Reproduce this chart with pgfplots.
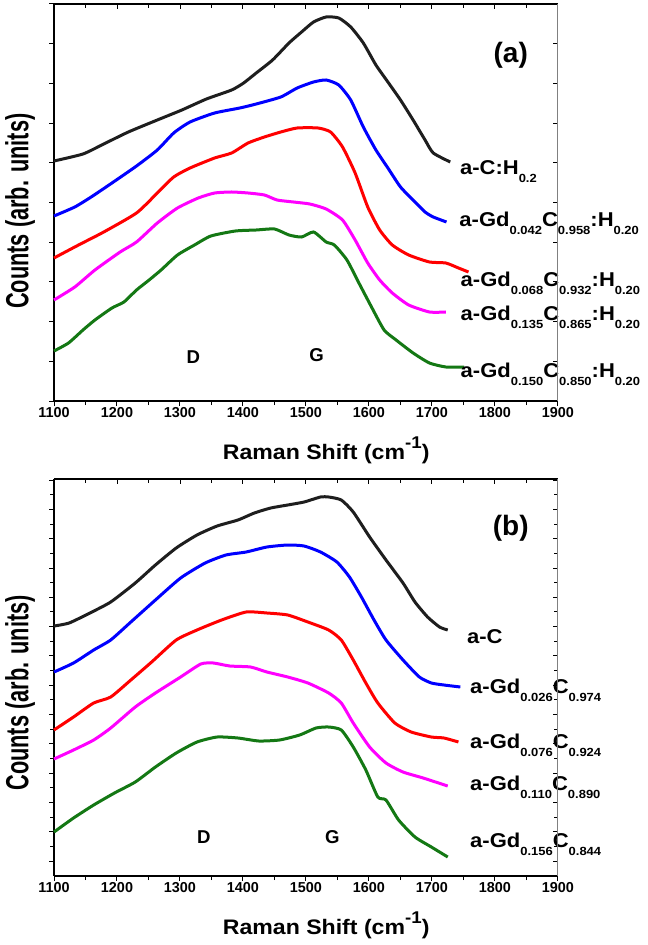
\documentclass[border=0pt]{standalone}
\usepackage{fontspec}
\setmainfont{Liberation Sans}
\newfontfamily\widefont[FakeStretch=1.1]{Liberation Sans}
\newfontfamily\narrowfont[FakeStretch=0.68]{Liberation Sans}
\usepackage{pgfplots}
\pgfplotsset{compat=1.18}
\definecolor{cblack}{RGB}{30,30,30}
\definecolor{cgreen}{RGB}{20,120,20}
\definecolor{cmag}{RGB}{255,0,255}
\newcommand{\sub}[1]{\raisebox{-4pt}{\fontsize{5.9}{7}\selectfont #1}}
\newcommand{\lab}{\widefont\bfseries\fontsize{10}{12}\selectfont}
\pgfplotsset{
  panel/.style={
    scale only axis, width=252pt, height=198.5pt,
    xmin=1100, xmax=1900, ymin=0, ymax=397,
    axis x line*=bottom, axis y line*=left,
    axis line style={-, line width=0.6pt},
    tick align=outside,
    major tick length=2.5pt, minor tick length=2pt,
    every tick/.style={black, line width=0.5pt},
    xtick={1100,1200,...,1900},
    minor xtick={1150,1250,...,1850},
    yticklabels={},
    /pgf/number format/assume math mode=true,
    /pgf/number format/1000 sep={},
    xticklabel style={font=\bfseries\fontsize{7.2}{8}\selectfont, yshift=3pt},
    clip=false,
    every axis plot/.append style={line width=1.5pt, smooth, tension=0.35},
    xlabel={\widefont\bfseries\fontsize{10.5}{13}\selectfont Raman Shift (cm\raisebox{5.5pt}{\fontsize{8.5}{9}\selectfont -1})},
    ylabel={\narrowfont\bfseries\fontsize{16}{18}\selectfont Counts (arb. units)},
    every axis x label/.style={at={(axis description cs:0.54,-0.123)}, anchor=center},
    every axis y label/.style={at={(axis description cs:-0.0675,0.478)}, anchor=center, rotate=90},
  },
  rightframe/.style={
    scale only axis, width=252pt, height=198.5pt,
    xmin=1100, xmax=1900, ymin=0, ymax=397,
    axis x line*=top, axis y line*=right,
    x axis line style={-, black, line width=0.6pt},
    y axis line style={-, gray, line width=0.5pt},
    xtick={1100,1200,...,1900},
    minor xtick={1150,1250,...,1850},
    xticklabels={}, yticklabels={},
    tick align=inside,
    major tick length=2.5pt, minor tick length=2pt,
    every tick/.style={black, line width=0.5pt},
  }
}
\begin{document}
\begin{tikzpicture}
\useasboundingbox (0pt,0pt) rectangle (323.5pt,-472.5pt);
% ---------------- panel (a)
\begin{axis}[panel, at={(27pt,-2pt)}, anchor=north west,
  ytick={0,39.7,...,398}]
\addplot[cblack] coordinates {(1100,240)(1146,247)(1179,257)(1218,269)(1264,281)(1303,291)(1342,302)(1382,311)(1401,318)(1421,328)(1447,341)(1473,358)(1493,369)(1512,379)(1532,384)(1552,383)(1571,374)(1591,358)(1611,336)(1630,319)(1650,301)(1670,281)(1689,261)(1702,248)(1729,239)};
\addplot[blue] coordinates {(1100,185)(1133,194)(1159,204)(1192,218)(1231,235)(1264,251)(1290,268)(1316,279)(1355,288)(1395,293)(1421,297)(1460,304)(1486,313)(1512,319)(1532,321)(1552,316)(1571,301)(1591,274)(1611,251)(1630,233)(1650,214)(1670,201)(1689,189)(1702,184)(1723,179)};
\addplot[red] coordinates {(1100,143)(1139,156)(1179,169)(1231,188)(1264,208)(1290,224)(1316,233)(1355,243)(1382,248)(1408,258)(1434,264)(1460,269)(1486,273)(1519,273)(1539,269)(1558,254)(1578,228)(1598,194)(1617,171)(1637,156)(1663,146)(1696,139)(1722,138)(1742,133)(1758,129)};
\addplot[cmag] coordinates {(1100,101)(1133,114)(1165,131)(1205,149)(1231,159)(1264,178)(1296,193)(1329,203)(1355,208)(1382,209)(1408,208)(1434,206)(1454,201)(1480,199)(1506,197)(1532,192)(1558,181)(1578,161)(1598,138)(1617,121)(1637,108)(1663,96)(1696,89)(1722,89)};
\addplot[cgreen] coordinates {(1100,50)(1123,58)(1146,71)(1165,81)(1192,93)(1211,99)(1231,111)(1251,121)(1270,131)(1296,146)(1323,156)(1349,165)(1388,170)(1421,171)(1450,172)(1473,166)(1493,164)(1512,169)(1532,159)(1545,156)(1565,141)(1584,118)(1604,94)(1624,71)(1643,61)(1670,48)(1696,38)(1722,34)(1751,34)};
\node[anchor=base west, inner sep=0pt] at (axis cs:1744,226) {\lab a-C:H\sub{0.2}};
\node[anchor=base west, inner sep=0pt] at (axis cs:1743,174) {\lab a-Gd\sub{0.042}C\sub{0.958}:H\sub{0.20}};
\node[anchor=base west, inner sep=0pt] at (axis cs:1745,114) {\lab a-Gd\sub{0.068}C\sub{0.932}:H\sub{0.20}};
\node[anchor=base west, inner sep=0pt] at (axis cs:1745,80) {\lab a-Gd\sub{0.135}C\sub{0.865}:H\sub{0.20}};
\node[anchor=base west, inner sep=0pt] at (axis cs:1745,24) {\lab a-Gd\sub{0.150}C\sub{0.850}:H\sub{0.20}};
\node at (axis cs:1825,346) {\bfseries\fontsize{14}{16}\selectfont (a)};
\node at (axis cs:1321,44) {\bfseries\fontsize{9.3}{11}\selectfont D};
\node at (axis cs:1517,46) {\bfseries\fontsize{9.3}{11}\selectfont G};
\end{axis}
\begin{axis}[rightframe, at={(27pt,-2pt)}, anchor=north west,
  ytick={0,39.7,...,398}]
\end{axis}
% ---------------- panel (b)
\begin{axis}[panel, at={(27pt,-239.5pt)}, anchor=north west,
  every axis y label/.append style={at={(axis description cs:-0.0675,0.461)}},
  ytick={15,44.3,...,397},
  minor ytick={29.65,58.95,...,390}]
\addplot[cblack] coordinates {(1100,250)(1124,253)(1157,263)(1190,274)(1229,293)(1261,311)(1294,328)(1327,341)(1359,350)(1392,356)(1418,363)(1444,368)(1471,371)(1497,374)(1523,379)(1536,379)(1556,376)(1575,364)(1601,339)(1627,316)(1654,293)(1673,274)(1693,259)(1712,249)(1725,246)};
\addplot[blue] coordinates {(1100,204)(1131,213)(1163,226)(1190,236)(1222,254)(1261,276)(1301,298)(1340,313)(1373,321)(1405,324)(1438,329)(1471,331)(1497,330)(1523,324)(1549,314)(1569,299)(1588,279)(1608,256)(1627,236)(1654,216)(1680,199)(1699,193)(1719,191)(1745,189)};
\addplot[red] coordinates {(1100,146)(1131,159)(1163,173)(1190,179)(1222,196)(1255,214)(1294,236)(1327,246)(1366,256)(1405,264)(1438,263)(1471,261)(1503,254)(1536,246)(1556,236)(1575,216)(1595,193)(1614,173)(1641,153)(1667,144)(1699,139)(1719,138)(1742,134)};
\addplot[cmag] coordinates {(1100,117)(1131,126)(1163,136)(1190,148)(1229,169)(1261,183)(1301,199)(1333,212)(1353,213)(1379,210)(1412,209)(1438,204)(1471,199)(1503,193)(1536,183)(1556,173)(1575,153)(1601,129)(1627,113)(1654,104)(1686,98)(1725,90)};
\addplot[cgreen] coordinates {(1100,44)(1131,58)(1163,71)(1196,83)(1229,94)(1261,109)(1294,123)(1327,134)(1359,139)(1392,138)(1425,135)(1458,136)(1490,141)(1516,148)(1536,149)(1556,146)(1575,129)(1595,106)(1614,79)(1627,76)(1647,56)(1673,39)(1699,29)(1725,19)};
\node[anchor=base west, inner sep=0pt] at (axis cs:1755,233) {\lab a-C};
\node[anchor=base west, inner sep=0pt] at (axis cs:1760,183) {\lab a-Gd\sub{0.026}C\sub{0.974}};
\node[anchor=base west, inner sep=0pt] at (axis cs:1760,128) {\lab a-Gd\sub{0.076}C\sub{0.924}};
\node[anchor=base west, inner sep=0pt] at (axis cs:1760,86) {\lab a-Gd\sub{0.110}C\sub{0.890}};
\node[anchor=base west, inner sep=0pt] at (axis cs:1760,29) {\lab a-Gd\sub{0.156}C\sub{0.844}};
\node at (axis cs:1825,348) {\bfseries\fontsize{14}{16}\selectfont (b)};
\node at (axis cs:1338,39) {\bfseries\fontsize{9.3}{11}\selectfont D};
\node at (axis cs:1542,39) {\bfseries\fontsize{9.3}{11}\selectfont G};
\end{axis}
\begin{axis}[rightframe, at={(27pt,-239.5pt)}, anchor=north west,
  ytick={15,44.3,...,397},
  minor ytick={29.65,58.95,...,390}]
\end{axis}
\end{tikzpicture}
\end{document}
